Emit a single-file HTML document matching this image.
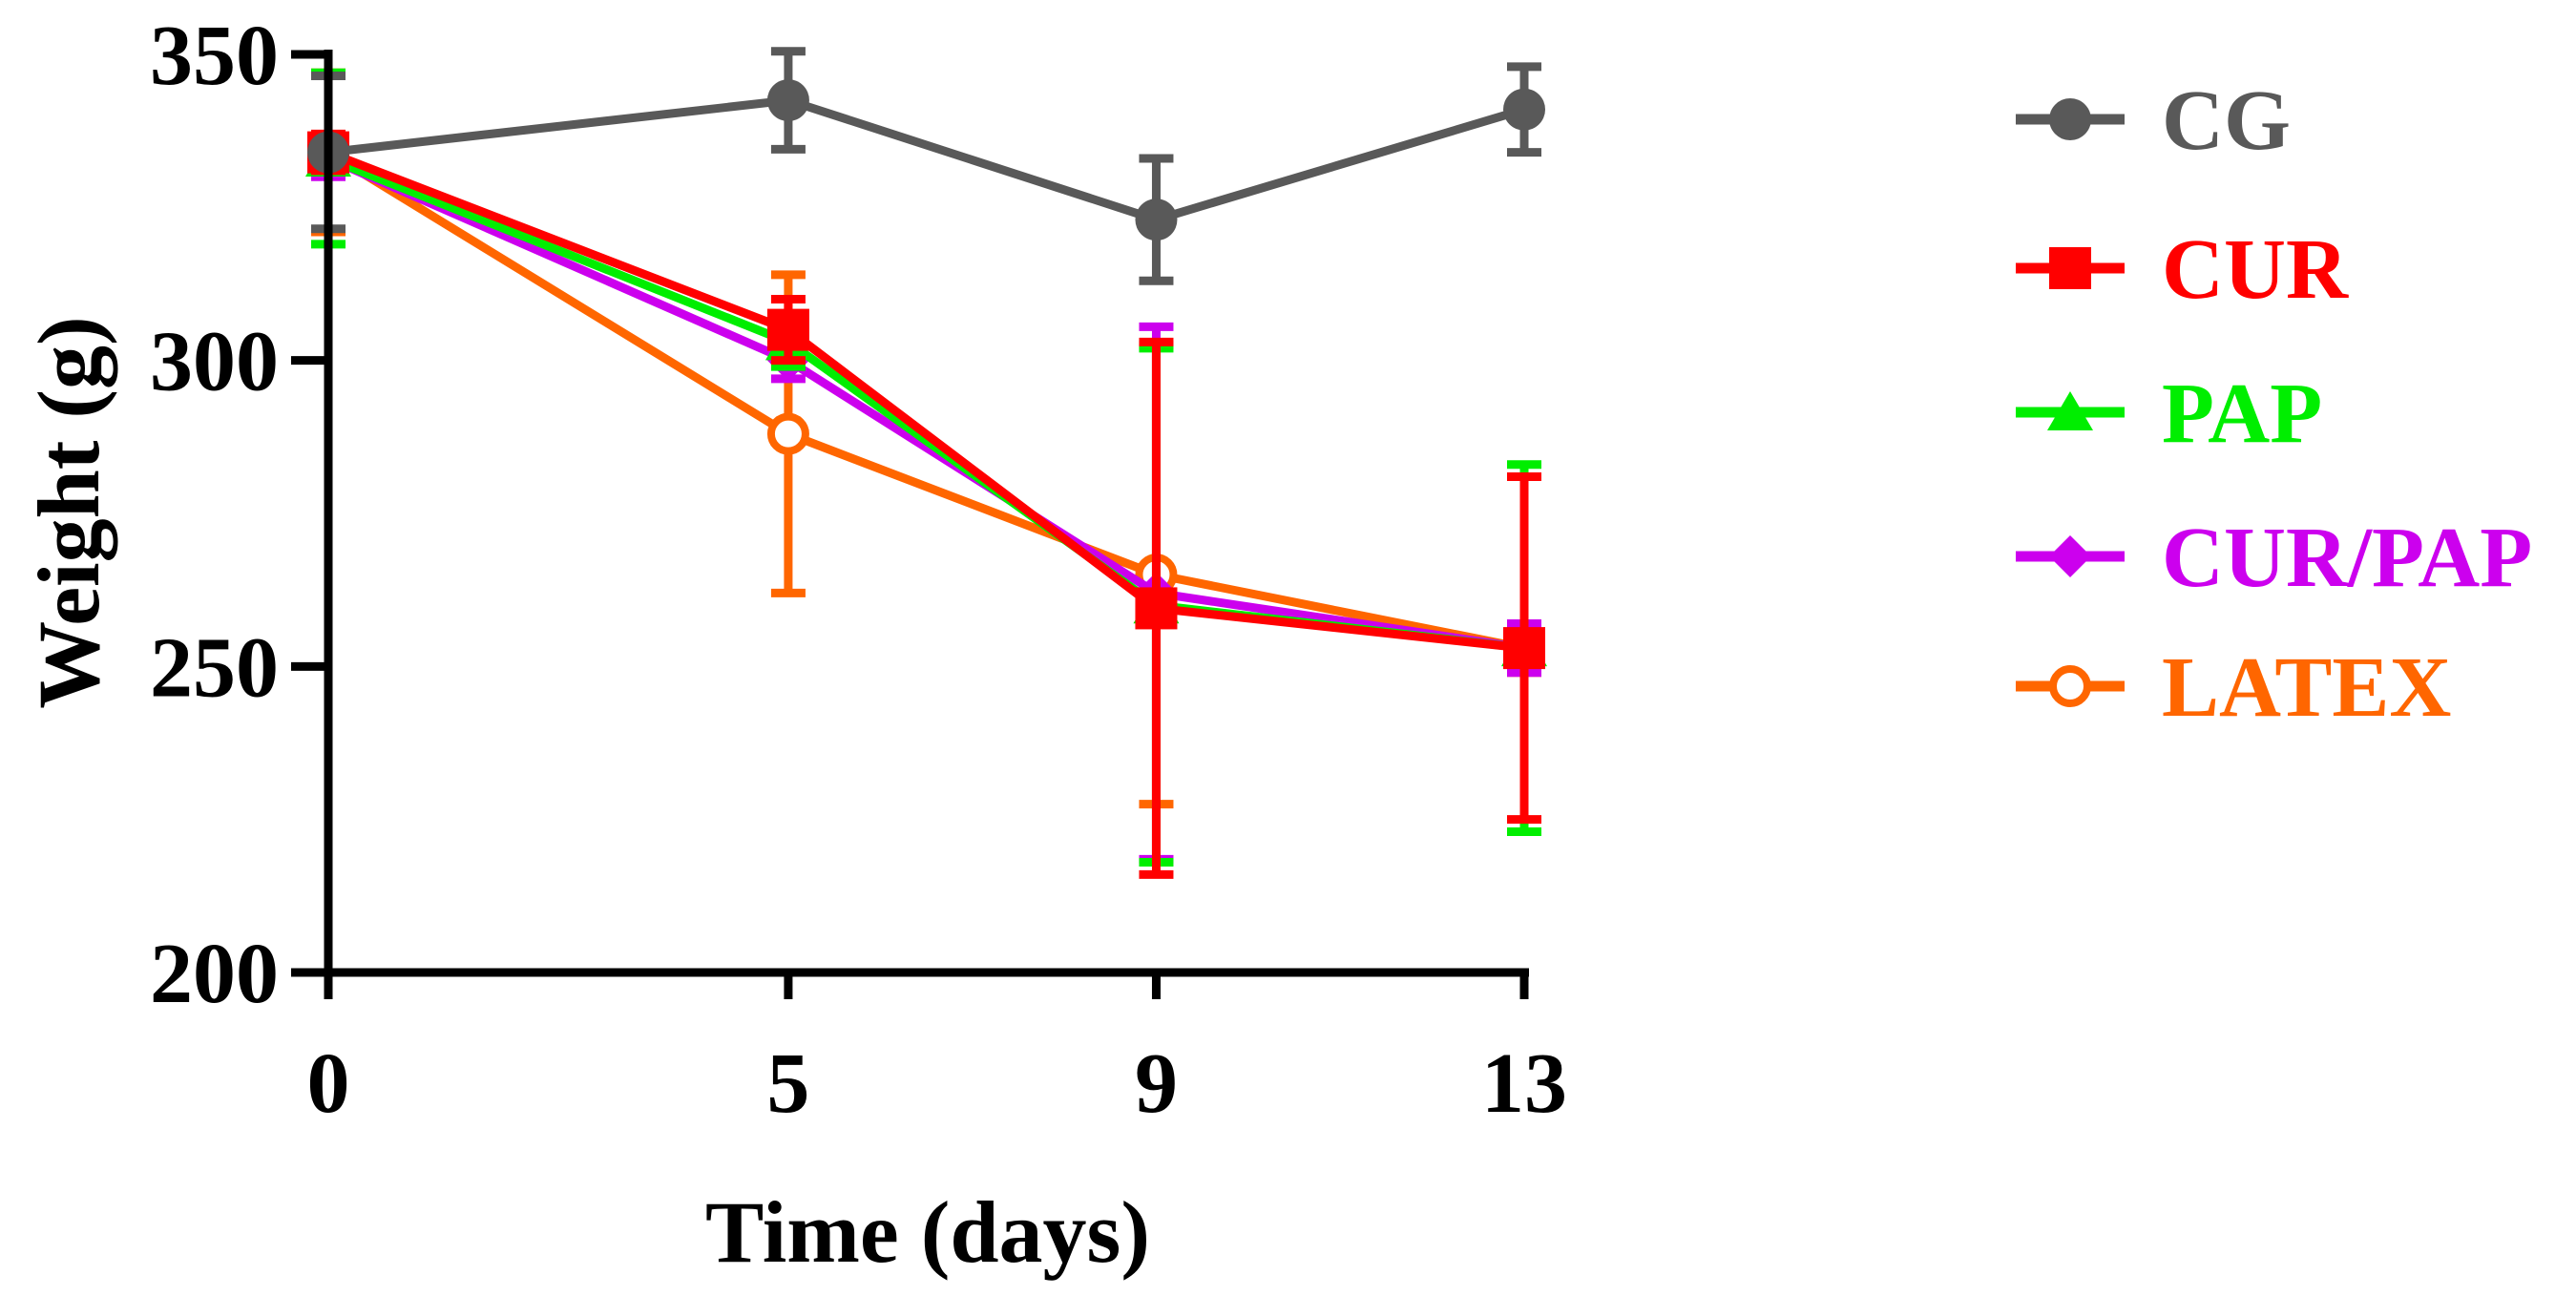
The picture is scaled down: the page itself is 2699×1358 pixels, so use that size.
<!DOCTYPE html>
<html><head><meta charset="utf-8"><style>
html,body{margin:0;padding:0;background:#fff;}
svg{display:block;font-family:"Liberation Serif",serif;font-weight:bold;}
</style></head><body>
<svg id="chart" width="2699" height="1358" viewBox="0 0 2699 1358">
<g id="plot"></g>
<g id="axes"></g>
<g id="legend"></g>
<text x="72" y="537" transform="rotate(-90 72 537)" text-anchor="middle" font-size="92" fill="#000" dominant-baseline="central">Weight (g)</text>
<text x="972" y="1322" text-anchor="middle" font-size="92" fill="#000">Time (days)</text>
</svg>
<script>
const days = [0, 5, 9, 13];
const yTicks = [200, 250, 300, 350];
const seriesNames = ["CG", "CUR", "PAP", "CUR/PAP", "LATEX"];
const cgMean = [334, 342.5, 323, 341];
const cgErr = [12.5, 8, 10, 7];
const curMean = [334, 305, 259.5, 253];
const curErr = [3, 5, 43.5, 28];
const papMean = [333, 303, 260, 253];
const papErr = [14, 4, 42, 30];
const curpapMean = [333, 300, 262, 253];
const curpapErr = [3, 3, 43.5, 4];
const latexMean = [334, 288, 265, 253];
const latexErr = [13, 26, 37.5, 4];

const NS = "http://www.w3.org/2000/svg";
const X0 = 344, X1 = 1597, Y0 = 1019, Y1 = 57;
const xs = d => X0 + (d - 0) / (13 - 0) * (X1 - X0);
const ys = v => Y0 - (v - 200) / (350 - 200) * (Y0 - Y1);
function mk(tag, attrs, parent) {
  const e = document.createElementNS(NS, tag);
  for (const k in attrs) e.setAttribute(k, attrs[k]);
  parent.appendChild(e); return e;
}
const plot = document.getElementById("plot");
const axes = document.getElementById("axes");
const legend = document.getElementById("legend");

const colors = ["#595959", "#ff0000", "#00ee00", "#cc00ee", "#ff6600"];
const means = [cgMean, curMean, papMean, curpapMean, latexMean];
const errs = [cgErr, curErr, papErr, curpapErr, latexErr];
const markers = ["circle", "square", "triangle", "diamond", "open"];

function marker(type, cx, cy, col, parent) {
  let e;
  if (type === "circle") e = mk("circle", {cx, cy, r: 22, fill: col}, parent);
  else if (type === "square") e = mk("rect", {x: cx - 22, y: cy - 22, width: 44, height: 44, fill: col}, parent);
  else if (type === "triangle") e = mk("polygon", {points: `${cx},${cy - 22} ${cx + 24},${cy + 19} ${cx - 24},${cy + 19}`, fill: col}, parent);
  else if (type === "diamond") e = mk("polygon", {points: `${cx},${cy - 22} ${cx + 22},${cy} ${cx},${cy + 22} ${cx - 22},${cy}`, fill: col}, parent);
  else e = mk("circle", {cx, cy, r: 18, fill: "#fff", stroke: col, "stroke-width": 8}, parent);
  return e;
}

const order = [4, 3, 2, 1, 0];
order.forEach(i => {
  const g = mk("g", {}, plot);
  
  
  const col = colors[i];
  days.forEach((d, j) => {
    const x = xs(d), lo = ys(means[i][j] - errs[i][j]), hi = ys(means[i][j] + errs[i][j]);
    const eb = mk("path", {d: `M${x},${lo}V${hi}M${x - 18},${lo}H${x + 18}M${x - 18},${hi}H${x + 18}`, stroke: col, "stroke-width": 9, fill: "none"}, g);
    
    
  });
  const pts = days.map((d, j) => xs(d) + "," + ys(means[i][j])).join(" ");
  const line = mk("polyline", {points: pts, fill: "none", stroke: col, "stroke-width": 9, "stroke-linejoin": "round"}, g);
  
  
  days.forEach((d, j) => {
    const m = marker(markers[i], xs(d), ys(means[i][j]), col, g);
    
    
  });
});

const ya = mk("line", {x1: X0, y1: Y1 - 5, x2: X0, y2: Y0 + 5, stroke: "#000", "stroke-width": 9}, axes);


const xa = mk("line", {x1: X0 - 5, y1: Y0, x2: X1 + 5, y2: Y0, stroke: "#000", "stroke-width": 9}, axes);


yTicks.forEach(v => {
  const t = mk("line", {x1: 305, y1: ys(v), x2: X0, y2: ys(v), stroke: "#000", "stroke-width": 9}, axes);
  
  
  const l = mk("text", {x: 292, y: ys(v) + 31, "text-anchor": "end", "font-size": 90, fill: "#000"}, axes);
  l.textContent = v;
  
  
});
days.forEach(d => {
  const t = mk("line", {x1: xs(d), y1: Y0, x2: xs(d), y2: 1047, stroke: "#000", "stroke-width": 9}, axes);
  
  
  const l = mk("text", {x: xs(d), y: 1165, "text-anchor": "middle", "font-size": 90, fill: "#000"}, axes);
  l.textContent = d;
  
  
});

const legY = [125, 281, 432, 583, 719];
seriesNames.forEach((n, i) => {
  const g = mk("g", {}, legend);
  
  
  const y = legY[i];
  mk("line", {x1: 2112, y1: y, x2: 2226, y2: y, stroke: colors[i], "stroke-width": 11}, g);
  marker(markers[i], 2169, y, colors[i], g);
  const t = mk("text", {x: 2265, y: y + 31, "font-size": 90, fill: colors[i]}, g);
  t.textContent = n;
});
</script>
</body></html>
